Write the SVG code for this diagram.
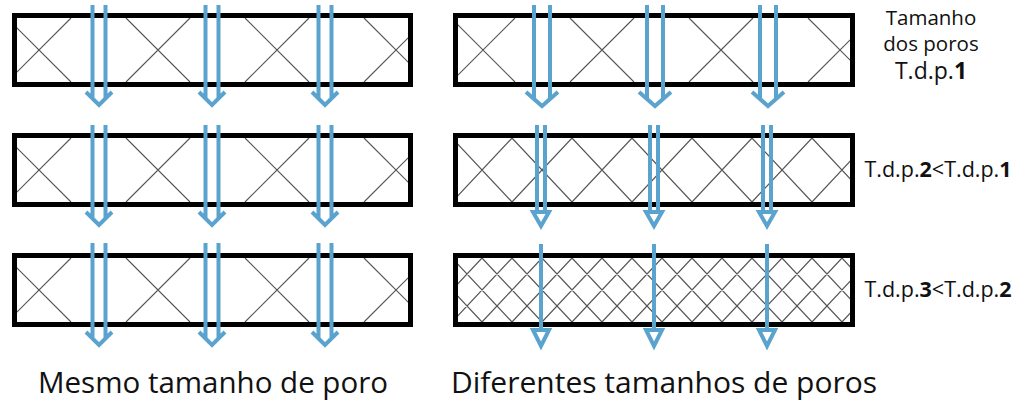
<svg xmlns="http://www.w3.org/2000/svg" width="1024" height="407" viewBox="0 0 1024 407">
<style>
.box{fill:#fff;stroke:#000;stroke-width:5}
.h{stroke:#555;stroke-width:1.2;fill:none}
.a{stroke:#5BA3CF;stroke-width:4;fill:none}
.t{font-family:"Open Sans","Liberation Sans",sans-serif;fill:#111}
</style>
<defs>
<clipPath id="cl1"><rect x="17" y="18" width="391" height="64"/></clipPath>
<clipPath id="cl2"><rect x="17" y="138" width="391" height="64"/></clipPath>
<clipPath id="cl3"><rect x="17" y="258" width="391" height="64"/></clipPath>
<clipPath id="cr1"><rect x="458" y="18" width="392" height="64"/></clipPath>
<clipPath id="cr2"><rect x="458" y="138" width="392" height="64"/></clipPath>
<clipPath id="cr3"><rect x="458" y="258" width="392" height="64"/></clipPath>
<path id="xs" d="M7,18L71,82M7,82L71,18M126,18L190,82M126,82L190,18M245,18L309,82M245,82L309,18M364,18L428,82M364,82L428,18"/>
</defs>
<g id="left-box-1"><rect class="box" x="14.5" y="15.5" width="396" height="69"/><use href="#xs" class="h" clip-path="url(#cl1)"/></g>
<g id="left-box-2"><rect class="box" x="14.5" y="135.5" width="396" height="69"/><g clip-path="url(#cl2)"><use href="#xs" class="h" y="120"/></g></g>
<g id="left-box-3"><rect class="box" x="14.5" y="255.5" width="396" height="69"/><g clip-path="url(#cl3)"><use href="#xs" class="h" y="240"/></g></g>
<g id="right-box-1"><rect class="box" x="455.5" y="15.5" width="397" height="69"/><g clip-path="url(#cr1)"><use href="#xs" class="h" x="444"/></g></g>
<g id="right-box-2"><rect class="box" x="455.5" y="135.5" width="397" height="69"/>
<path class="h" clip-path="url(#cr2)" d="M392,138l60,64M452,138l60,64M512,138l60,64M572,138l60,64M632,138l60,64M692,138l60,64M752,138l60,64M812,138l60,64M872,138l60,64M512,138l-60,64M572,138l-60,64M632,138l-60,64M692,138l-60,64M752,138l-60,64M812,138l-60,64M872,138l-60,64M932,138l-60,64"/></g>
<g id="right-box-3"><rect class="box" x="455.5" y="255.5" width="397" height="69"/>
<path class="h" clip-path="url(#cr3)" d="M392,258l60,64M422,258l60,64M452,258l60,64M482,258l60,64M512,258l60,64M542,258l60,64M572,258l60,64M602,258l60,64M632,258l60,64M662,258l60,64M692,258l60,64M722,258l60,64M752,258l60,64M782,258l60,64M812,258l60,64M842,258l60,64M482,258l-60,64M512,258l-60,64M542,258l-60,64M572,258l-60,64M602,258l-60,64M632,258l-60,64M662,258l-60,64M692,258l-60,64M722,258l-60,64M752,258l-60,64M782,258l-60,64M812,258l-60,64M842,258l-60,64M872,258l-60,64M902,258l-60,64"/></g>
<g id="connectors">
<g class="a">
<path d="M92.5,5V99M105.5,5V99M86,92l13,13l13,-13"/>
<path d="M205.5,5V99M218.5,5V99M199,92l13,13l13,-13"/>
<path d="M318.5,5V99M331.5,5V99M312,92l13,13l13,-13"/>
<path d="M92.5,125V219M105.5,125V219M86,212l13,13l13,-13"/>
<path d="M205.5,125V219M218.5,125V219M199,212l13,13l13,-13"/>
<path d="M318.5,125V219M331.5,125V219M312,212l13,13l13,-13"/>
<path d="M92.5,243V339M105.5,243V339M86,332l13,13l13,-13"/>
<path d="M205.5,243V339M218.5,243V339M199,332l13,13l13,-13"/>
<path d="M318.5,243V339M331.5,243V339M312,332l13,13l13,-13"/>
<path d="M534,5V99M550,5V99M526,92l16,14l16,-14"/>
<path d="M647,5V99M663,5V99M639,92l16,14l16,-14"/>
<path d="M760,5V99M776,5V99M752,92l16,14l16,-14"/>
<path d="M537,125V212M545,125V212M533,212h16l-8,14z"/>
<path d="M650,125V212M658,125V212M646,212h16l-8,14z"/>
<path d="M763,125V212M771,125V212M759,212h16l-8,14z"/>
<path d="M541,244V330M533,330h16l-8,16z"/>
<path d="M654,244V330M646,330h16l-8,16z"/>
<path d="M767,244V330M759,330h16l-8,16z"/>
</g>
</g>
<g id="labels" class="t">
<text class="t" x="931" y="25" font-size="20.5" text-anchor="middle">Tamanho</text>
<text class="t" x="931" y="51" font-size="20.5" text-anchor="middle">dos poros</text>
<text class="t" x="931" y="79" font-size="23" text-anchor="middle">T.d.p.<tspan font-weight="bold">1</tspan></text>
<text class="t" x="938" y="177" font-size="21.5" text-anchor="middle">T.d.p.<tspan font-weight="bold">2</tspan>&lt;T.d.p.<tspan font-weight="bold">1</tspan></text>
<text class="t" x="938" y="297" font-size="21.5" text-anchor="middle">T.d.p.<tspan font-weight="bold">3</tspan>&lt;T.d.p.<tspan font-weight="bold">2</tspan></text>
<text class="t" x="213" y="393" font-size="29.5" text-anchor="middle">Mesmo tamanho de poro</text>
<text class="t" x="664" y="393" font-size="30" text-anchor="middle">Diferentes tamanhos de poros</text>
</g>
</svg>
